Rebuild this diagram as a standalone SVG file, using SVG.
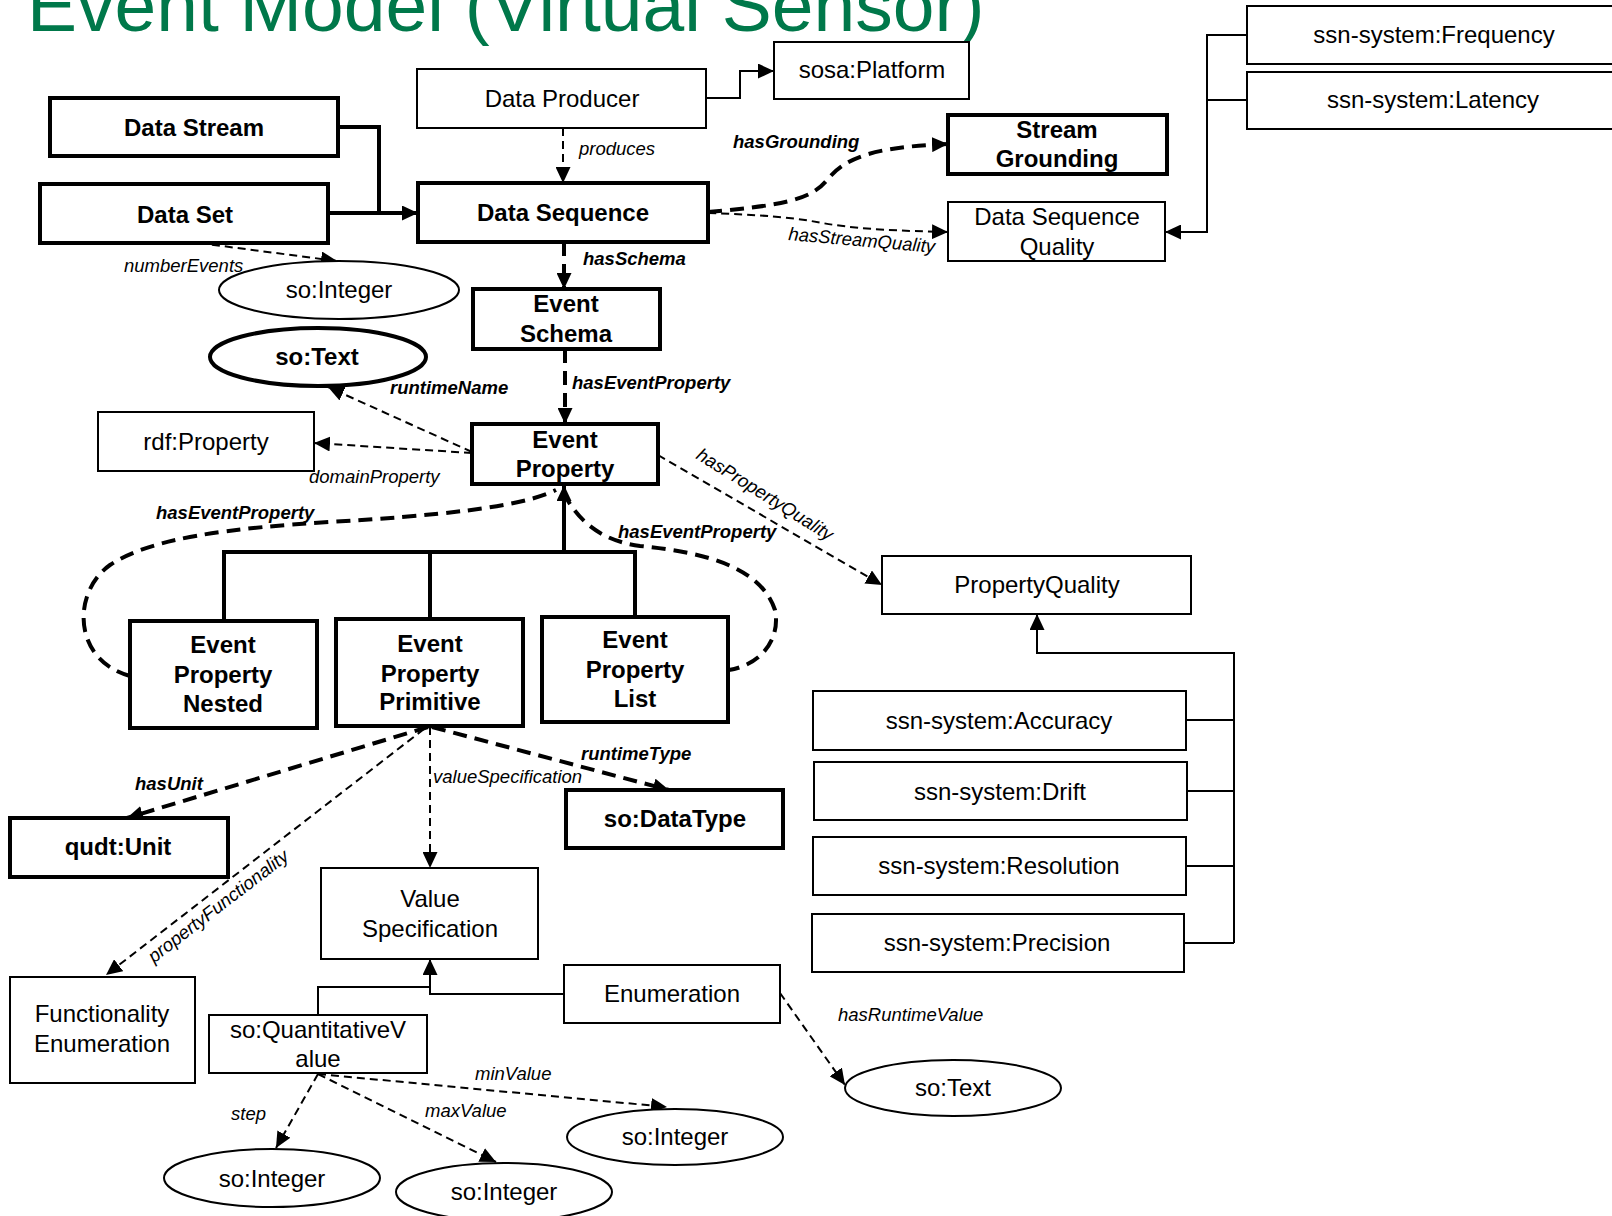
<svg xmlns="http://www.w3.org/2000/svg" width="1612" height="1216" viewBox="0 0 1612 1216">
  <defs>
    <marker id="ah" viewBox="0 0 16 15" refX="16" refY="7.5" markerWidth="16" markerHeight="15" markerUnits="userSpaceOnUse" orient="auto">
      <path d="M0,0 L16,7.5 L0,15 z" fill="#000"/>
    </marker>
  </defs>
  <style>
    .box { fill: #fff; stroke: #000; stroke-width: 2; }
    .bbox { fill: #fff; stroke: #000; stroke-width: 4; }
    text { font-family: "Liberation Sans", Arial, sans-serif; }
    .t { font-size: 24px; text-anchor: middle; fill: #000; }
    .b { font-weight: bold; }
    .lbl { font-size: 18.5px; font-style: italic; fill: #000; }
    .ln { fill: none; stroke: #000; stroke-width: 2; }
    .thk { stroke-width: 4; }
    .d { stroke-dasharray: 8 5; }
    .db { stroke-dasharray: 14 8; }
    .arr { marker-end: url(#ah); }
  </style>

  <rect width="1612" height="1216" fill="#fff"/>

  <!-- heading -->
  <text x="27" y="31" font-size="75" fill="#00784A">Event Model (Virtual Sensor)</text>

  <!-- connectors -->
  <g id="connectors">
    <!-- Data Stream / Data Set to Data Sequence -->
    <polyline class="ln thk arr" points="338,127 379,127 379,213 418,213"/>
    <line class="ln thk" x1="328" y1="213" x2="379" y2="213"/>
    <!-- produces -->
    <line class="ln d arr" x1="563" y1="128" x2="563" y2="183"/>
    <!-- Data Producer to sosa:Platform -->
    <polyline class="ln arr" points="706,98 740,98 740,71 774,71"/>
    <!-- numberEvents -->
    <line class="ln d arr" x1="199" y1="243" x2="337" y2="261"/>
    <!-- hasSchema -->
    <line class="ln thk db arr" x1="564" y1="242" x2="564" y2="289"/>
    <!-- hasEventProperty (schema) -->
    <line class="ln thk db arr" x1="565" y1="349" x2="565" y2="424"/>
    <!-- runtimeName -->
    <line class="ln d arr" x1="472" y1="452" x2="328" y2="387"/>
    <!-- domainProperty -->
    <line class="ln d arr" x1="472" y1="453" x2="314" y2="443"/>
    <!-- hasGrounding -->
    <path class="ln thk db arr" d="M708,212 C790,205 812,198 827,180 C845,158 872,147 948,144"/>
    <!-- hasStreamQuality -->
    <path class="ln d arr" d="M708,213 C800,216 812,222 835,225 C862,229 900,231 948,232"/>
    <!-- quality subclasses to Data Sequence Quality -->
    <polyline class="ln arr" points="1247,35 1207,35 1207,232 1165,232"/>
    <line class="ln" x1="1247" y1="100" x2="1207" y2="100"/>
    <!-- hasPropertyQuality -->
    <line class="ln d arr" x1="658" y1="455" x2="882" y2="585"/>
    <!-- PropertyQuality subclasses -->
    <line class="ln arr" x1="1037" y1="654" x2="1037" y2="614"/>
    <polyline class="ln" stroke-width="3" points="1037,653 1234,653 1234,943"/>
    <line class="ln" x1="1186" y1="720" x2="1234" y2="720"/>
    <line class="ln" x1="1187" y1="791" x2="1234" y2="791"/>
    <line class="ln" x1="1186" y1="866" x2="1234" y2="866"/>
    <line class="ln" x1="1184" y1="943" x2="1234" y2="943"/>
    <!-- Event Property subclasses -->
    <line class="ln thk arr" x1="564" y1="552" x2="564" y2="485"/>
    <polyline class="ln thk" points="224,621 224,552 635,552 635,617"/>
    <line class="ln thk" x1="430" y1="552" x2="430" y2="619"/>
    <!-- hasEventProperty loops -->
    <path class="ln thk db" d="M130,676 C72,660 72,592 110,565 C150,538 230,528 330,522 C430,516 520,508 556,490"/>
    <path class="ln thk db" d="M563,492 C575,515 595,540 640,546 C700,552 760,565 775,610 C781,640 760,665 729,670"/>
    <!-- from Event Property Primitive -->
    <line class="ln thk db arr" x1="428" y1="727" x2="127" y2="818"/>
    <line class="ln d arr" x1="424" y1="729" x2="106" y2="975"/>
    <line class="ln d arr" x1="430" y1="727" x2="430" y2="868"/>
    <line class="ln thk db arr" x1="432" y1="727" x2="669" y2="790"/>
    <!-- Value Specification subclasses -->
    <polyline class="ln arr" points="564,994 430,994 430,959"/>
    <polyline class="ln" points="318,1015 318,987 430,987"/>
    <!-- QuantitativeValue properties -->
    <line class="ln d arr" x1="318" y1="1074" x2="276" y2="1148"/>
    <line class="ln d arr" x1="318" y1="1074" x2="496" y2="1162"/>
    <line class="ln d arr" x1="318" y1="1074" x2="667" y2="1107"/>
    <!-- hasRuntimeValue -->
    <line class="ln d arr" x1="780" y1="993" x2="845" y2="1085"/>
  </g>

  <!-- connector labels -->
  <g id="labels" class="lbl">
    <text x="579" y="155">produces</text>
    <text x="124" y="272">numberEvents</text>
    <text x="583" y="265" class="b">hasSchema</text>
    <text x="572" y="389" class="b">hasEventProperty</text>
    <text x="390" y="394" class="b">runtimeName</text>
    <text x="309" y="483">domainProperty</text>
    <text x="733" y="148" class="b">hasGrounding</text>
    <text x="788" y="240" transform="rotate(5 788 240)">hasStreamQuality</text>
    <text x="695" y="458" transform="rotate(32 695 458)">hasPropertyQuality</text>
    <text x="156" y="519" class="b">hasEventProperty</text>
    <text x="618" y="538" class="b">hasEventProperty</text>
    <text x="135" y="790" class="b">hasUnit</text>
    <text x="222" y="911" text-anchor="middle" transform="rotate(-37.6 222 911)">propertyFunctionality</text>
    <text x="433" y="783">valueSpecification</text>
    <text x="581" y="760" class="b">runtimeType</text>
    <text x="231" y="1120">step</text>
    <text x="425" y="1117">maxValue</text>
    <text x="475" y="1080">minValue</text>
    <text x="838" y="1021">hasRuntimeValue</text>
  </g>

  <!-- nodes -->
  <g id="data-stream"><rect class="bbox" x="50" y="98" width="288" height="58"/><text class="t b" x="194" y="136">Data Stream</text></g>
  <g id="data-set"><rect class="bbox" x="40" y="184" width="288" height="59"/><text class="t b" x="185" y="223">Data Set</text></g>
  <g id="data-producer"><rect class="box" x="417" y="69" width="289" height="59"/><text class="t" x="562" y="107">Data Producer</text></g>
  <g id="sosa-platform"><rect class="box" x="774" y="42" width="195" height="57"/><text class="t" x="872" y="78">sosa:Platform</text></g>
  <g id="data-sequence"><rect class="bbox" x="418" y="183" width="290" height="59"/><text class="t b" x="563" y="221">Data Sequence</text></g>
  <g id="stream-grounding"><rect class="bbox" x="948" y="115" width="219" height="59"/><text class="t b" x="1057" y="138">Stream</text><text class="t b" x="1057" y="167">Grounding</text></g>
  <g id="data-sequence-quality"><rect class="box" x="948" y="202" width="217" height="59"/><text class="t" x="1057" y="225">Data Sequence</text><text class="t" x="1057" y="255">Quality</text></g>
  <g id="ssn-frequency"><rect class="box" x="1247" y="6" width="380" height="58"/><text class="t" x="1434" y="43">ssn-system:Frequency</text></g>
  <g id="ssn-latency"><rect class="box" x="1247" y="72" width="380" height="57"/><text class="t" x="1433" y="108">ssn-system:Latency</text></g>
  <g id="so-integer-events"><ellipse class="box" cx="339" cy="290" rx="120" ry="29"/><text class="t" x="339" y="298">so:Integer</text></g>
  <g id="so-text-name"><ellipse class="bbox" cx="318" cy="357" rx="108" ry="29"/><text class="t b" x="317" y="365">so:Text</text></g>
  <g id="event-schema"><rect class="bbox" x="473" y="289" width="187" height="60"/><text class="t b" x="566" y="312">Event</text><text class="t b" x="566" y="342">Schema</text></g>
  <g id="rdf-property"><rect class="box" x="98" y="412" width="216" height="59"/><text class="t" x="206" y="450">rdf:Property</text></g>
  <g id="event-property"><rect class="bbox" x="472" y="424" width="186" height="60"/><text class="t b" x="565" y="448">Event</text><text class="t b" x="565" y="477">Property</text></g>
  <g id="property-quality"><rect class="box" x="882" y="556" width="309" height="58"/><text class="t" x="1037" y="593">PropertyQuality</text></g>
  <g id="ep-nested"><rect class="bbox" x="130" y="621" width="187" height="107"/><text class="t b" x="223" y="653">Event</text><text class="t b" x="223" y="683">Property</text><text class="t b" x="223" y="712">Nested</text></g>
  <g id="ep-primitive"><rect class="bbox" x="336" y="619" width="187" height="107"/><text class="t b" x="430" y="652">Event</text><text class="t b" x="430" y="682">Property</text><text class="t b" x="430" y="710">Primitive</text></g>
  <g id="ep-list"><rect class="bbox" x="542" y="617" width="186" height="105"/><text class="t b" x="635" y="648">Event</text><text class="t b" x="635" y="678">Property</text><text class="t b" x="635" y="707">List</text></g>
  <g id="ssn-accuracy"><rect class="box" x="813" y="691" width="373" height="59"/><text class="t" x="999" y="729">ssn-system:Accuracy</text></g>
  <g id="ssn-drift"><rect class="box" x="814" y="762" width="373" height="58"/><text class="t" x="1000" y="800">ssn-system:Drift</text></g>
  <g id="ssn-resolution"><rect class="box" x="813" y="837" width="373" height="58"/><text class="t" x="999" y="874">ssn-system:Resolution</text></g>
  <g id="ssn-precision"><rect class="box" x="812" y="914" width="372" height="58"/><text class="t" x="997" y="951">ssn-system:Precision</text></g>
  <g id="qudt-unit"><rect class="bbox" x="10" y="818" width="218" height="59"/><text class="t b" x="118" y="855">qudt:Unit</text></g>
  <g id="so-datatype"><rect class="bbox" x="566" y="790" width="217" height="58"/><text class="t b" x="675" y="827">so:DataType</text></g>
  <g id="value-specification"><rect class="box" x="321" y="868" width="217" height="91"/><text class="t" x="430" y="907">Value</text><text class="t" x="430" y="937">Specification</text></g>
  <g id="functionality-enumeration"><rect class="box" x="10" y="977" width="185" height="106"/><text class="t" x="102" y="1022">Functionality</text><text class="t" x="102" y="1052">Enumeration</text></g>
  <g id="enumeration"><rect class="box" x="564" y="965" width="216" height="58"/><text class="t" x="672" y="1002">Enumeration</text></g>
  <g id="so-quantitative-value"><rect class="box" x="209" y="1015" width="218" height="58"/><text class="t" x="318" y="1038">so:QuantitativeV</text><text class="t" x="318" y="1067">alue</text></g>
  <g id="so-text-value"><ellipse class="box" cx="953" cy="1088" rx="108" ry="28"/><text class="t" x="953" y="1096">so:Text</text></g>
  <g id="so-integer-step"><ellipse class="box" cx="272" cy="1178" rx="108" ry="29"/><text class="t" x="272" y="1187">so:Integer</text></g>
  <g id="so-integer-max"><ellipse class="box" cx="504" cy="1192" rx="108" ry="29"/><text class="t" x="504" y="1200">so:Integer</text></g>
  <g id="so-integer-min"><ellipse class="box" cx="675" cy="1137" rx="108" ry="28"/><text class="t" x="675" y="1145">so:Integer</text></g>
</svg>
